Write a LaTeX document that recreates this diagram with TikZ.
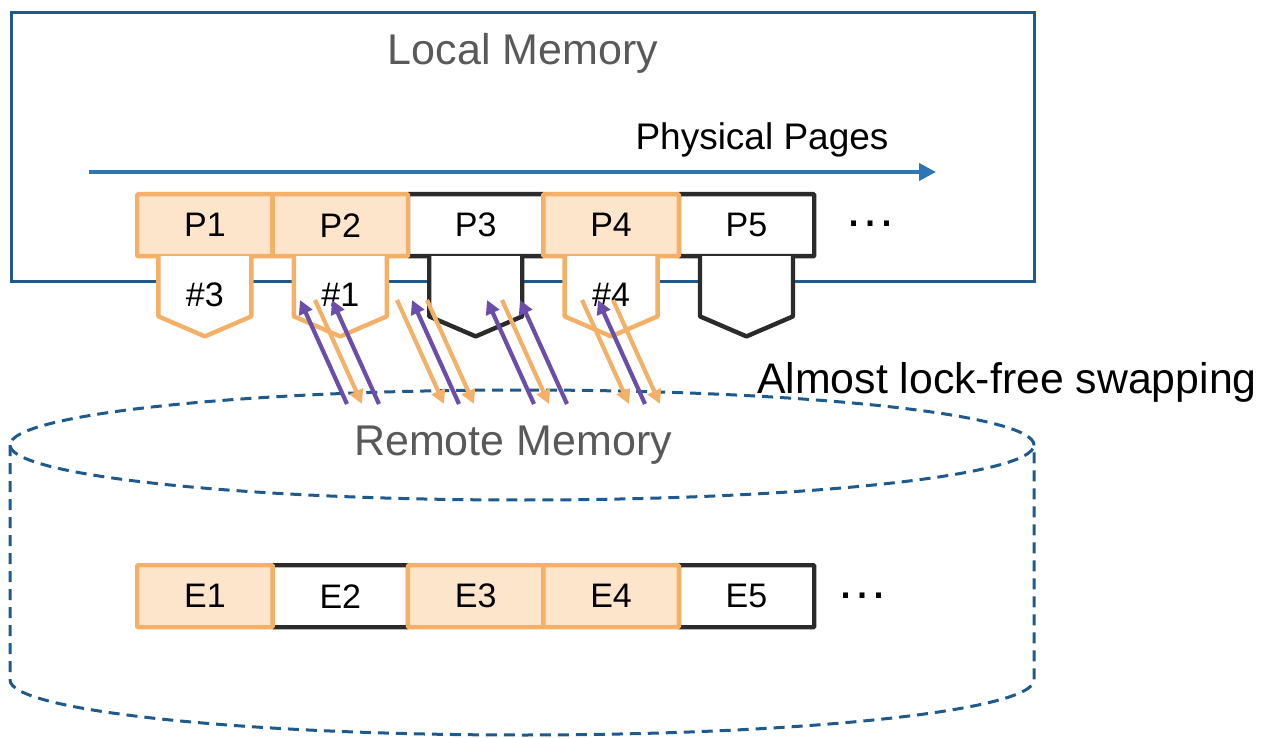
\documentclass[tikz,border=0pt]{standalone}
\usepackage{fontspec}
\setmainfont{Liberation Sans}
\usetikzlibrary{arrows.meta,calc}

\definecolor{lmblue}{HTML}{1F5A8C}
\definecolor{axisblue}{HTML}{2E75B6}
\definecolor{pgorange}{HTML}{F5B068}
\definecolor{pgfillc}{HTML}{FDE5CC}
\definecolor{pgdark}{HTML}{2B2B2B}
\definecolor{swpurple}{HTML}{6B4EAA}
\definecolor{labelgray}{HTML}{595959}

\begin{document}
\begin{tikzpicture}[x=1pt,y=1pt,
  page/.style={draw, line width=4.4pt, rounded corners=1pt,
    minimum width=135.4pt, minimum height=62pt, inner sep=0pt,
    font=\fontsize{34}{40}\selectfont, anchor=north west},
  usedpage/.style={page, draw=pgorange, fill=pgfillc},
  freepage/.style={page, draw=pgdark, fill=white},
  tagused/.style={draw=pgorange, fill=white, line width=4.4pt, line join=round},
  tagfree/.style={draw=pgdark, fill=white, line width=4.4pt, line join=round},
  tagtext/.style={font=\fontsize{34}{40}\selectfont, inner sep=0pt},
  swapin/.style={draw=swpurple, line width=4.2pt,
    -{Triangle[length=14pt,width=14pt]}},
  swapout/.style={draw=pgorange, line width=4.2pt,
    -{Triangle[length=14pt,width=14pt]}},
  cyl/.style={draw=lmblue, line width=3pt, dash pattern=on 11pt off 7pt},
  title/.style={text=labelgray, font=\fontsize{43}{50}\selectfont, anchor=base, inner sep=0pt},
  dots/.style={font=\fontsize{52}{60}\selectfont, anchor=base, inner sep=0pt}
]
\useasboundingbox (0,0) rectangle (1270,-738);

% local memory frame
\node[draw=lmblue, line width=3.3pt, minimum width=1023pt, minimum height=269pt,
      inner sep=0pt, anchor=north west] (local) at (10,-11) {};
\node[title] (localtitle) at (523,-65) {Local Memory};

% physical page axis
\coordinate (axisstart) at (89,-172);
\coordinate (axisend) at (936,-172);
\draw[draw=axisblue, line width=3.8pt, -{Triangle[length=17pt,width=17pt]}] (axisstart) -- (axisend);
\node[font=\fontsize{37}{44}\selectfont, anchor=base, inner sep=0pt] (axislabel) at (762,-150) {Physical Pages};

% remote memory cylinder
\draw[cyl] (10,-445) -- (10,-680)
  arc[start angle=180, end angle=360, x radius=512, y radius=55] -- (1034,-445);
\draw[cyl] (522,-445) ellipse[x radius=512, y radius=55];
\node[title] (remotetitle) at (513,-455) {Remote Memory};

% page frames
\node[freepage] (P3) at (405.8,-192) {P3};
\node[freepage] (P5) at (676.6,-192) {P5};
\node[usedpage] (P1) at (135,-192) {P1};
\node[usedpage] (P2) at (270.4,-192) {P2};
\node[usedpage] (P4) at (541.2,-192) {P4};
\node[dots] (pdots) at (870,-227) {…};

% per-page tags
\foreach \p/\st/\lbl in {P1/tagused/\#3, P2/tagused/\#1, P3/tagfree/, P4/tagused/\#4, P5/tagfree/}{
  \begin{scope}[shift={(\p.south)}]
    \draw[\st] (-46.5,2.2) -- (-46.5,-58) -- (0,-78) -- (46.5,-58) -- (46.5,2.2);
    \node[tagtext] (tag\p) at (0,-36) {\lbl};
  \end{scope}
}

% remote entries
\node[freepage] (E2) at (270.4,-563) {E2};
\node[freepage] (E5) at (676.6,-563) {E5};
\node[usedpage] (E1) at (135,-563) {E1};
\node[usedpage] (E3) at (405.8,-563) {E3};
\node[usedpage] (E4) at (541.2,-563) {E4};
\node[dots] (edots) at (862,-598) {…};

% swap-in (up) and swap-out (down) transfers
\foreach \n/\x in {a/300, b/315, c/332, d/397, e/412, f/427, g/487, h/502, i/520, j/582, k/598, l/613}{
  \coordinate (hi\n) at (\x,-300);
  \coordinate (lo\n) at (\x+47,-404);
}
\foreach \n in {a,c,e,g,i,k}{ \draw[swapin] (lo\n) -- (hi\n); }
\foreach \n in {b,d,f,h,j,l}{ \draw[swapout] (hi\n) -- (lo\n); }

\node[font=\fontsize{42.8}{50}\selectfont, anchor=base west, inner sep=0pt] (swaplabel) at (757,-393) {Almost lock-free swapping};
\end{tikzpicture}
\end{document}
